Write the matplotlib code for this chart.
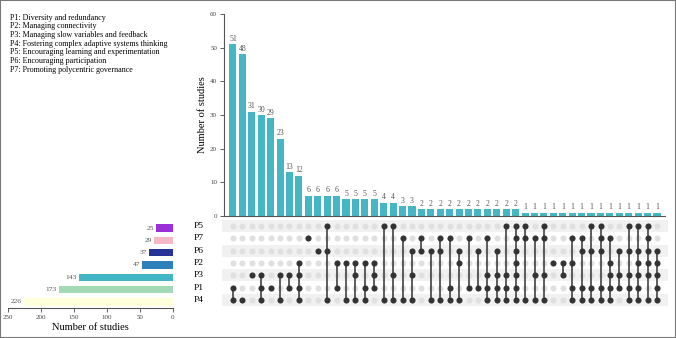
import matplotlib
matplotlib.use('Agg')
import matplotlib.pyplot as plt
from matplotlib.patches import Rectangle

plt.rcParams['font.family'] = ['Liberation Serif', 'DejaVu Serif']

# row order in the matrix, top to bottom
sets = ['P5', 'P7', 'P6', 'P2', 'P3', 'P1', 'P4']
set_sizes = [25, 29, 37, 47, 143, 173, 226]
set_colors = ['#9b30d9', '#f7b8c6', '#253494', '#2c7fb8', '#41b6c4', '#a1dab4', '#ffffd9']

counts = [51, 48, 31, 30, 29, 23, 13, 12, 6, 6, 6, 6, 5, 5, 5, 5, 4, 4, 3, 3,
          2, 2, 2, 2, 2, 2, 2, 2, 2, 2, 2,
          1, 1, 1, 1, 1, 1, 1, 1, 1, 1, 1, 1, 1, 1, 1]
members = [
    ['P1', 'P4'], ['P4'], ['P3'], ['P3', 'P1', 'P4'], ['P1'], ['P3', 'P4'],
    ['P3', 'P1'], ['P2', 'P3', 'P1', 'P4'], ['P7'], ['P6'], ['P5', 'P6', 'P4'],
    ['P2', 'P1'], ['P2', 'P4'], ['P2', 'P3', 'P4'], ['P2', 'P1', 'P4'], ['P2', 'P3', 'P1'],
    ['P5', 'P4'], ['P5', 'P3', 'P4'], ['P7', 'P4'], ['P6', 'P3', 'P4'],
    ['P7', 'P6'], ['P6', 'P4'], ['P7', 'P6', 'P4'], ['P7', 'P1', 'P4'], ['P6', 'P2', 'P4'],
    ['P7', 'P1'], ['P6', 'P1'], ['P7', 'P3', 'P1', 'P4'], ['P6', 'P3', 'P1', 'P4'],
    ['P5', 'P3', 'P1', 'P4'], ['P5', 'P7', 'P6', 'P2', 'P3', 'P1', 'P4'],
    ['P5', 'P7', 'P4'], ['P7', 'P3', 'P4'], ['P5', 'P7', 'P3', 'P4'], ['P2'], ['P2', 'P3'],
    ['P7', 'P2', 'P1', 'P4'], ['P7', 'P6', 'P1', 'P4'], ['P5', 'P6', 'P1', 'P4'],
    ['P5', 'P7', 'P6', 'P1', 'P4'], ['P7', 'P2', 'P3', 'P1', 'P4'], ['P6', 'P3', 'P1'],
    ['P5', 'P6', 'P3', 'P1', 'P4'], ['P5', 'P6', 'P2', 'P3', 'P1', 'P4'],
    ['P5', 'P7', 'P6', 'P2', 'P3', 'P4'], ['P6', 'P2', 'P3', 'P1', 'P4'],
]
legend_lines = [
    'P1: Diversity and redundancy',
    'P2: Managing connectivity',
    'P3: Managing slow variables and feedback',
    'P4: Fostering complex adaptive systems thinking',
    'P5: Encouraging learning and experimentation',
    'P6: Encouraging participation',
    'P7: Promoting polycentric governance',
]

W, H = 676, 338
fig = plt.figure(figsize=(W / 100, H / 100), dpi=100)

def box(x0, y0, x1, y1):
    # pixel box (top-left origin) -> figure fraction
    return [x0 / W, 1 - y1 / H, (x1 - x0) / W, (y1 - y0) / H]

n = len(counts)
xs = list(range(n))
bar_col = '#45b7c4'
grey = '#444444'

# intersection bars
ax_bar = fig.add_axes(box(224, 14, 665, 216))
ax_bar.bar(xs, counts, width=0.75, color=bar_col)
for x, c in zip(xs, counts):
    ax_bar.text(x, c + 0.4, str(c), ha='center', va='bottom', fontsize=5.6, color='#555555')
ax_bar.set_xlim(-0.95, n - 0.15)
ax_bar.set_ylim(0, 60)
ax_bar.set_yticks(range(0, 61, 10))
ax_bar.set_xticks([])
ax_bar.tick_params(axis='y', labelsize=5, length=3, width=0.6, colors=grey, pad=2)
for s in ['top', 'right']:
    ax_bar.spines[s].set_visible(False)
for s in ['left', 'bottom']:
    ax_bar.spines[s].set_color('#555555')
    ax_bar.spines[s].set_linewidth(0.8)
ax_bar.set_ylabel('Number of studies', fontsize=7.5, labelpad=2)

# matrix
ax_m = fig.add_axes(box(222, 220, 668, 306))
ax_m.set_xlim(-1.15, n + 0.15)
ax_m.set_ylim(-0.5, len(sets) - 0.5)
ax_m.invert_yaxis()
for i in range(0, len(sets), 2):
    ax_m.axhspan(i - 0.5, i + 0.5, color='#f1f1f1', lw=0)
for x, mem in zip(xs, members):
    rows = [sets.index(m) for m in mem]
    ax_m.scatter([x] * len(sets), range(len(sets)), s=19, color='#e0e0e0', lw=0, zorder=2)
    ax_m.scatter([x] * len(rows), rows, s=19, color='#333333', lw=0, zorder=4)
    if len(rows) > 1:
        ax_m.plot([x, x], [min(rows), max(rows)], color='#333333', lw=1.1, zorder=3)
ax_m.axis('off')
for i, s in enumerate(sets):
    fig.text(204 / W, 1 - (226 + i * 12.3) / H, s, ha='right', va='center', fontsize=6.8)

# set size bars
ax_s = fig.add_axes(box(8, 220, 173, 308))
ax_s.barh(range(len(sets)), set_sizes, height=0.6, color=set_colors)
for i, v in enumerate(set_sizes):
    ax_s.text(v + 3, i, str(v), ha='right', va='center', fontsize=5.4, color='#555555')
ax_s.set_ylim(-0.5 - 2 / 12.3, len(sets) - 0.5)
ax_s.invert_yaxis()
ax_s.set_xlim(250, 0)
ax_s.set_xticks(range(0, 251, 50))
ax_s.set_yticks([])
ax_s.tick_params(axis='x', labelsize=5, length=3, width=0.6, colors=grey, pad=2)
for s in ['top', 'right', 'left']:
    ax_s.spines[s].set_visible(False)
ax_s.spines['bottom'].set_color('#555555')
ax_s.spines['bottom'].set_linewidth(0.8)
ax_s.set_xlabel('Number of studies', fontsize=7.5, labelpad=2)

# description text
for k, line in enumerate(legend_lines):
    fig.text(10 / W, 1 - (17.5 + k * 8.7) / H, line, fontsize=5.8, va='center', ha='left')

fig.patches.append(Rectangle((0, 0), 1, 1, transform=fig.transFigure, fill=False,
                             edgecolor='#777777', lw=1.5))

fig.savefig('out.png', dpi=100)
